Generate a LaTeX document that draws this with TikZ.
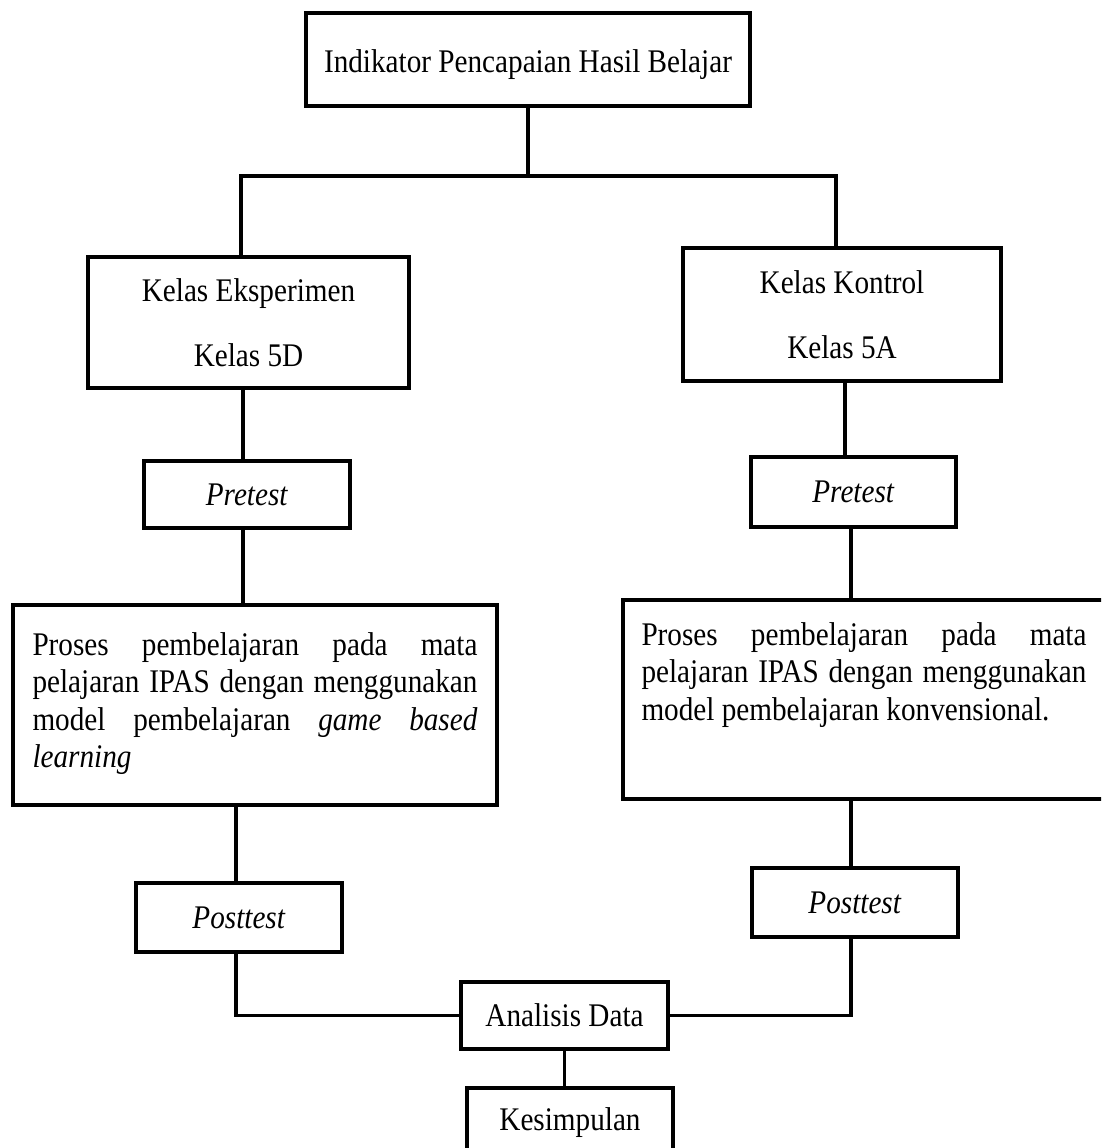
\documentclass[tikz,border=0pt]{standalone}
\usepackage{fontspec}
\setmainfont{Liberation Serif}[FakeStretch=0.885]
\begin{document}
\begin{tikzpicture}[x=1pt,y=-1pt,
  box/.style={draw, line width=3.3pt, inner sep=0pt, align=center,
    font=\fontsize{33}{37.5}\selectfont},
  twoline/.style={box, font=\fontsize{33}{65}\selectfont},
  conn/.style={line width=3.3pt}]
\useasboundingbox (0,0) rectangle (1101,1148);
\fill[white] (0,0) rectangle (1101,1148);
\clip (0,0) rectangle (1101,1148);

% nodes
\node[box, minimum width=444pt, minimum height=93pt, text height=25.5pt, text depth=0pt] (top) at (528,59.5)
  {Indikator Pencapaian Hasil Belajar};
\node[twoline, minimum width=321pt, minimum height=131pt] (KE) at (248.5,322.5)
  {Kelas Eksperimen\\Kelas 5D};
\node[twoline, minimum width=318pt, minimum height=133pt] (KK) at (842,314.5)
  {Kelas Kontrol\\Kelas 5A};
\node[box, minimum width=206pt, minimum height=67pt] (PreL) at (247,494.5)
  {\textit{Pretest}};
\node[box, minimum width=205pt, minimum height=70pt] (PreR) at (853.5,492)
  {\textit{Pretest}};
\node[box, minimum width=484pt, minimum height=200pt] (ProL) at (255,705)
  {\parbox[c][200pt][t]{445pt}{\vspace*{27.5pt}%
   \makebox[445pt][s]{Proses pembelajaran pada mata}\\%
   \makebox[445pt][s]{pelajaran IPAS dengan menggunakan}\\%
   \makebox[445pt][s]{model pembelajaran \textit{game based}}\\%
   \textit{learning}}};
\node[box, minimum width=482pt, minimum height=199pt] (ProR) at (864,699.5)
  {\parbox[c][199pt][t]{445pt}{\vspace*{22.5pt}%
   \makebox[445pt][s]{Proses pembelajaran pada mata}\\%
   \makebox[445pt][s]{pelajaran IPAS dengan menggunakan}\\%
   model pembelajaran konvensional.}};
\node[box, minimum width=206pt, minimum height=69pt] (PostL) at (239,917.5)
  {\textit{Posttest}};
\node[box, minimum width=206pt, minimum height=69pt] (PostR) at (855,902.5)
  {\textit{Posttest}};
\node[box, minimum width=207pt, minimum height=67pt] (Ana) at (564.5,1015.5)
  {Analisis Data};
\node[box, minimum width=206pt, minimum height=70pt] (Kes) at (570,1123)
  {Kesimpulan};

% connector columns
\coordinate (split) at (528,176);
\coordinate (jL) at (241,176);
\coordinate (jR) at (836,176);
\coordinate (cl1) at (243,0);
\coordinate (cl2) at (236,0);
\coordinate (cr1) at (845,0);
\coordinate (cr2) at (851,0);

% connectors
\draw[conn] (top.south) -- (split);
\draw[conn] (KE.north -| jL) -- (jL) -- (jR) -- (KK.north -| jR);
\draw[conn] (KE.south -| cl1) -- (PreL.north -| cl1);
\draw[conn] (PreL.south -| cl1) -- (ProL.north -| cl1);
\draw[conn] (ProL.south -| cl2) -- (PostL.north -| cl2);
\draw[conn] (PostL.south -| cl2) -- (cl2 |- Ana.west) -- (Ana.west);
\draw[conn] (KK.south -| cr1) -- (PreR.north -| cr1);
\draw[conn] (PreR.south -| cr2) -- (ProR.north -| cr2);
\draw[conn] (ProR.south -| cr2) -- (PostR.north -| cr2);
\draw[conn] (PostR.south -| cr2) -- (cr2 |- Ana.east) -- (Ana.east);
\draw[conn] (Ana.south) -- (Ana.south |- Kes.north);
\end{tikzpicture}
\end{document}
